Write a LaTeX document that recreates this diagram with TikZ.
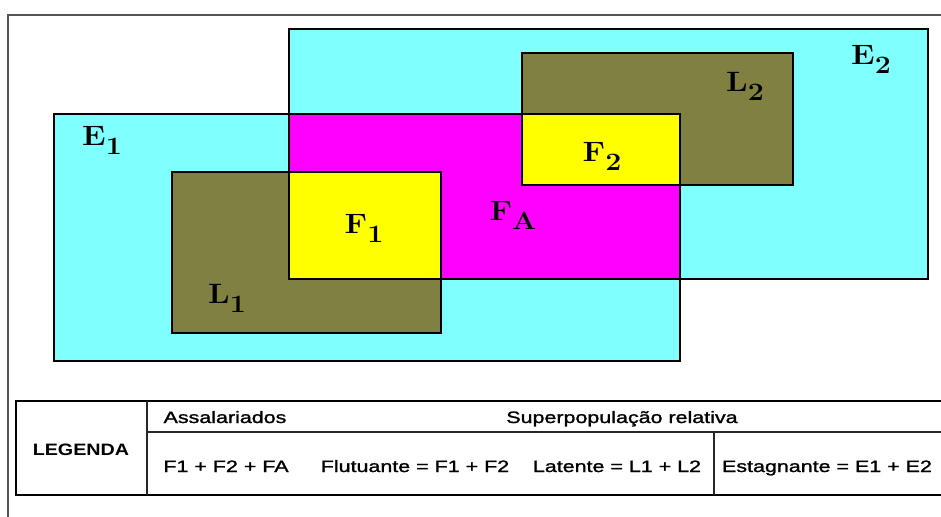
\documentclass[tikz,border=0pt]{standalone}
\usepackage{fontspec}
\setsansfont{Liberation Sans}
\newfontfamily\legfont[FakeBold=1.2]{Liberation Sans}

\definecolor{setcyan}{RGB}{128,255,255}
\definecolor{setolive}{RGB}{128,128,64}
\definecolor{setmagenta}{RGB}{255,0,255}
\definecolor{setyellow}{RGB}{255,255,0}
\definecolor{framegray}{RGB}{85,85,85}

\newcommand{\setname}[2]{#1\raisebox{-9pt}{\fontsize{25}{25}\selectfont #2}}

\tikzset{
    area/.style={draw=black, line width=2.8pt},
    setlabel/.style={font=\fontsize{28}{28}\selectfont\bfseries, xscale=1.14, inner sep=0pt},
    legtext/.style={font=\legfont\fontsize{16.5}{16.5}\selectfont, xscale=1.3, anchor=base, inner sep=0pt},
    legline/.style={draw=black!85, line width=1.1pt},
}

\begin{document}
\begin{tikzpicture}[x=1pt, y=-1pt]
    \useasboundingbox (0,0) rectangle (941,516);
    \fill[white] (0,0) rectangle (941,516);
    \clip (0,0) rectangle (941,516);

    % frame
    \draw[framegray, line width=1.5pt] (8,530) -- (8,15) -- (960,15);

    % the sets
    \draw[area, fill=setcyan] (289,29) rectangle (928,279);
    \draw[area, fill=setcyan] (54,114) rectangle (680,361);
    \draw[area, fill=setmagenta] (289,114) rectangle (680,279);
    \draw[area, fill=setolive] (172,172) rectangle (441,333);
    \draw[area, fill=setolive] (522,53) rectangle (793,185);
    \draw[area, fill=setyellow] (289,172) rectangle (441,279);
    \draw[area, fill=setyellow] (522,114) rectangle (680,185);

    \node[setlabel] (E1) at (102,140) {\setname{E}{1}};
    \node[setlabel] (E2) at (871,59) {\setname{E}{2}};
    \node[setlabel] (L1) at (227,298) {\setname{L}{1}};
    \node[setlabel] (L2) at (745,86) {\setname{L}{2}};
    \node[setlabel] (F1) at (364,228) {\setname{F}{1}};
    \node[setlabel] (F2) at (602,156) {\setname{F}{2}};
    \node[setlabel] (FA) at (513,215) {\setname{F}{A}};

    % legend
    \draw[black, line width=2.2pt] (16,401) rectangle (980,495);
    \draw[legline] (147,401) -- (147,495);
    \draw[legline] (147,432) -- (980,432);
    \draw[legline] (714,432) -- (714,495);

    \node[legtext, font=\sffamily\bfseries\fontsize{16.5}{16.5}\selectfont, xscale=0.92] (legenda) at (81,455) {LEGENDA};
    \node[legtext] (assal) at (225,423) {Assalariados};
    \node[legtext] (superpop) at (622,423) {Superpopulação relativa};
    \node[legtext] (somaF) at (226,472) {F1 + F2 + FA};
    \node[legtext] (flut) at (415,472) {Flutuante = F1 + F2};
    \node[legtext] (lat) at (617,472) {Latente = L1 + L2};
    \node[legtext] (estag) at (827,472) {Estagnante = E1 + E2};
\end{tikzpicture}
\end{document}
